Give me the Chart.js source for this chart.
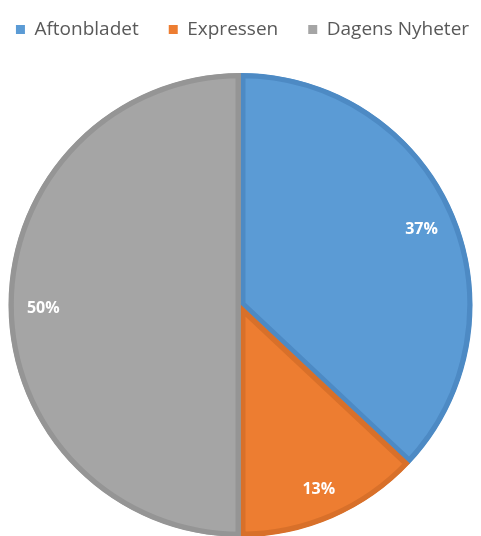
<!DOCTYPE html>
<html>
<head>
<meta charset="utf-8">
<script src="https://cdn.jsdelivr.net/npm/chart.js@4"></script>
<style>
  html, body { margin: 0; padding: 0; background: #fff; overflow: hidden; }
  #wrap { position: absolute; left: 0; top: 0; width: 481px; height: 537px; }
</style>
</head>
<body>
<div id="wrap"><canvas id="pie_chart"></canvas></div>
<script>
const papers = ["Aftonbladet", "Expressen", "Dagens Nyheter"];
const shares = [37, 13, 50];
const fillColors = ["#5b9bd5", "#ed7d31", "#a5a5a5"];
const edgeColors = ["#4d8ac4", "#d8702a", "#959595"];

// draws the percentage inside each slice
const sliceLabels = {
  id: "sliceLabels",
  afterDatasetsDraw(chart) {
    const ctx = chart.ctx;
    const meta = chart.getDatasetMeta(0);
    const total = shares.reduce((a, b) => a + b, 0);
    ctx.save();
    ctx.fillStyle = "#ffffff";
    ctx.font = "bold 16px 'Open Sans', sans-serif";
    ctx.textAlign = "center";
    ctx.textBaseline = "middle";
    meta.data.forEach((arc, i) => {
      const p = arc.getProps(["x", "y", "startAngle", "endAngle", "outerRadius"], true);
      const mid = (p.startAngle + p.endAngle) / 2;
      const r = p.outerRadius * 0.85;
      const pct = Math.round(shares[i] / total * 100) + "%";
      ctx.fillText(pct, p.x + Math.cos(mid) * r, p.y + 3 + Math.sin(mid) * r);
    });
    ctx.restore();
  }
};

// gives the legend a fixed height so the pie starts lower
const legendSpace = {
  id: "legendSpace",
  beforeInit(chart) {
    const fit = chart.legend.fit;
    chart.legend.fit = function () {
      fit.bind(chart.legend)();
      this.height = 83;
    };
  }
};

const data = {
  labels: papers,
  datasets: [{
    data: shares,
    backgroundColor: fillColors,
    borderColor: edgeColors,
    borderWidth: 5,
    borderAlign: "inner"
  }]
};

const config = {
  type: "pie",
  data: data,
  options: {
    responsive: true,
    maintainAspectRatio: false,
    animation: false,
    layout: { padding: { left: -16, right: -20, top: -10, bottom: 0 } },
    plugins: {
      legend: {
        position: "top",
        labels: {
          boxWidth: 9,
          boxHeight: 9,
          padding: 30,
          color: "#595959",
          font: { family: "'Open Sans', sans-serif", size: 19 },
          generateLabels: chart =>
            Chart.overrides.doughnut.plugins.legend.labels.generateLabels(chart)
              .map(item => ({ ...item, lineWidth: 0 }))
        }
      },
      tooltip: { enabled: false }
    }
  },
  plugins: [sliceLabels, legendSpace]
};

new Chart(document.getElementById("pie_chart"), config);
</script>
</body>
</html>
